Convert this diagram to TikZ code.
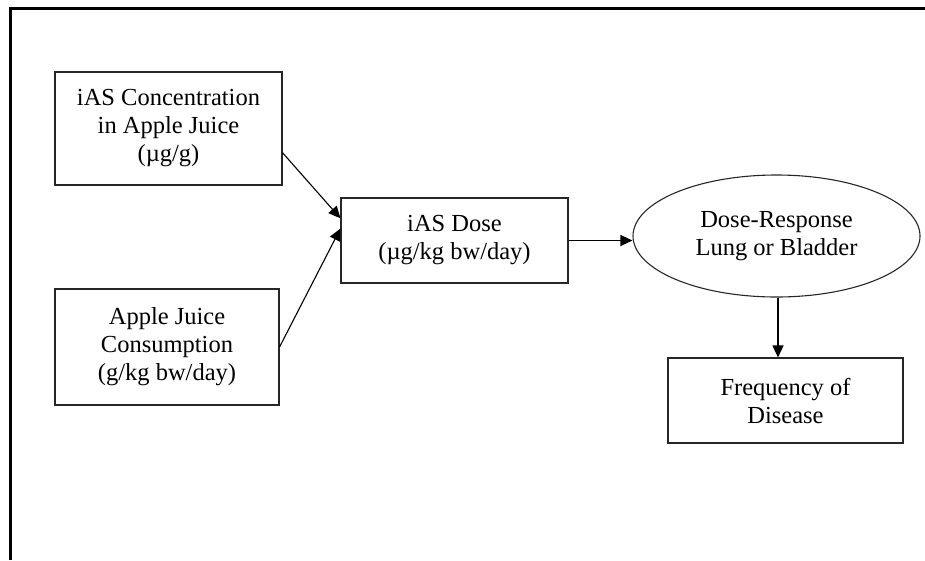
\documentclass[tikz,border=0pt]{standalone}
\usepackage{fontspec}
\setmainfont{Liberation Serif}
\usetikzlibrary{shapes.geometric,arrows.meta}
\tikzset{
  boxnode/.style={draw=black!85, line width=1.1pt, rectangle, inner sep=0pt, align=center,
    font=\fontsize{24.5}{28}\selectfont},
  ovalnode/.style={draw=black!85, line width=1.1pt, ellipse, inner sep=0pt, align=center,
    font=\fontsize{24.5}{28}\selectfont},
  conn/.style={line width=1.1pt, -{Triangle[length=12pt,width=11pt]}},
  frameline/.style={line width=3pt, black}
}
\begin{document}
\begin{tikzpicture}[x=1pt,y=-1pt]
\useasboundingbox (0,0) rectangle (925,560);
\draw[frameline] (10,560) -- (10,8) -- (925,8);
\node[boxnode, minimum width=227pt, minimum height=113pt] (conc) at (168.5,128.5)
  {iAS Concentration\\in Apple Juice\\(µg/g)};
\node[boxnode, minimum width=224pt, minimum height=116pt] (cons) at (167,347)
  {Apple Juice\\Consumption\\(g/kg bw/day)};
\node[boxnode, minimum width=227pt, minimum height=85pt] (dose) at (454.5,240.5)
  {iAS Dose\\(µg/kg bw/day)};
\node[ovalnode, minimum width=287pt, minimum height=122pt] (resp) at (776.5,236)
  {Dose-Response\\Lung or Bladder};
\node[boxnode, minimum width=235pt, minimum height=85pt] (freq) at (785.5,400.5)
  {Frequency of\\Disease};
\draw[conn] (conc.-12.7) -- (dose.169.8);
\draw[conn] (cons.east) -- (dose.174.7);
\draw[conn] (dose.east) -- (dose.east -| resp.west);
\draw[conn] ([xshift=1.5pt]resp.south) -- ([xshift=1.5pt]resp.south |- freq.north);
\end{tikzpicture}
\end{document}
